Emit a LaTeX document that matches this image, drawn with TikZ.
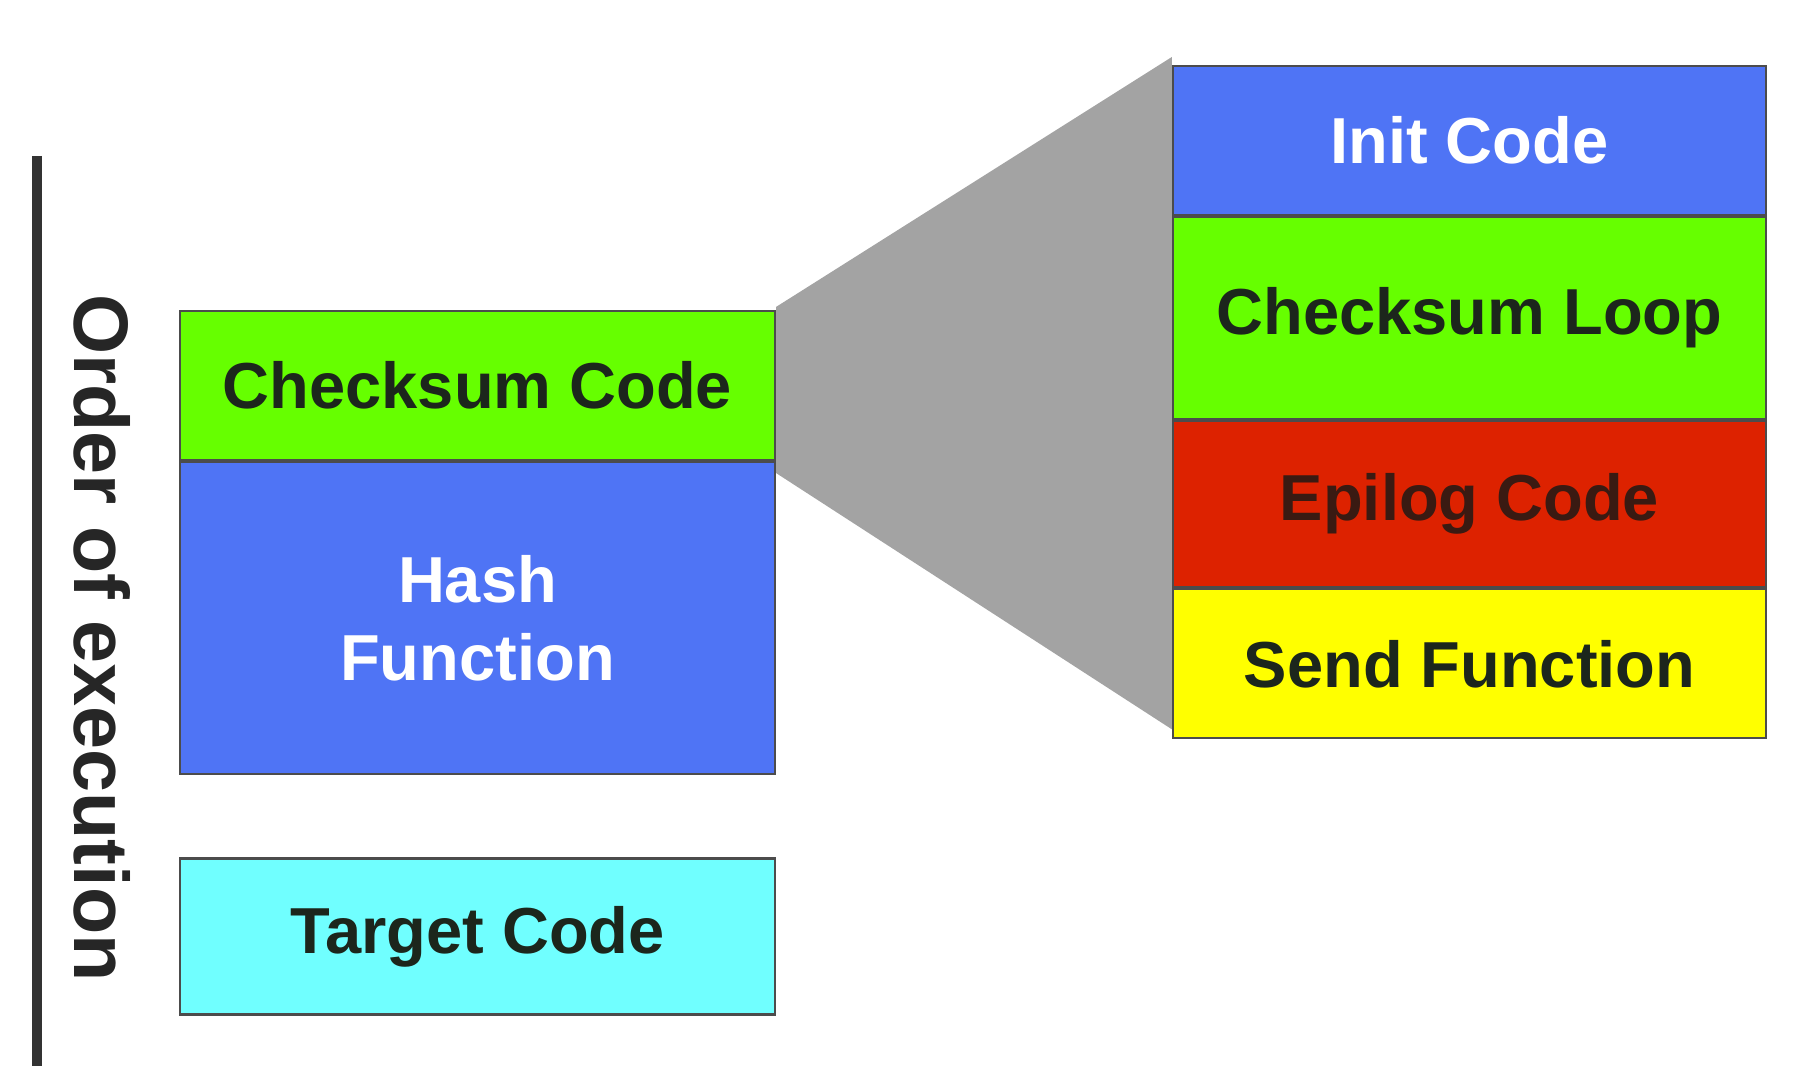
\documentclass[tikz,border=0pt]{standalone}
\usepackage{fontspec}
\setmainfont{Liberation Sans}
\usepackage{tikz}
\usetikzlibrary{positioning,backgrounds}

\definecolor{codeblue}{HTML}{4F74F5}
\definecolor{codegreen}{HTML}{66FF00}
\definecolor{codered}{HTML}{DD2200}
\definecolor{codeyellow}{HTML}{FFFF00}
\definecolor{codecyan}{HTML}{70FFFF}
\definecolor{funnelgray}{HTML}{A3A3A3}
\definecolor{darktext}{HTML}{1C261C}

\begin{document}
\begin{tikzpicture}[
		every node/.style={rectangle, draw=black!70, line width=0.6pt, inner sep=0pt,
			text=darktext, align=center,
			font=\fontsize{18.5}{22}\selectfont\bfseries},
		leftbox/.style={minimum width=5.95cm},
		rightbox/.style={minimum width=5.93cm}
	]
  \useasboundingbox (0,0) rectangle (18,-10.66);
  \node (chk) [leftbox, minimum height=1.49cm, fill=codegreen] at (4.775,-3.855) {Checksum Code};
  \node (hash) [leftbox, minimum height=3.12cm, fill=codeblue, text=white, below=0pt of chk] {Hash\\Function};
  \node (target) [leftbox, minimum height=1.56cm, fill=codecyan] at (4.775,-9.365) {Target Code};
  \node (init) [rightbox, minimum height=1.49cm, fill=codeblue, text=white] at (14.695,-1.405) {Init Code};
  \node (loop) [rightbox, minimum height=2.02cm, fill=codegreen, below=0pt of init] {Checksum Loop};
  \node (epilog) [rightbox, minimum height=1.66cm, fill=codered, text={rgb,255:red,58;green,26;blue,18}, below=0pt of loop] {Epilog Code};
  \node (send) [rightbox, minimum height=1.49cm, fill=codeyellow, below=0pt of epilog] {Send Function};
  \begin{scope}[on background layer]
    \fill[funnelgray] ([yshift=0.03cm]chk.north east) -- ([yshift=0.08cm]init.north west)
      -- ([yshift=0.1cm]send.south west) -- ([yshift=-0.12cm]chk.south east) -- cycle;
  \end{scope}
  \coordinate (top) at (0.37,-1.56);
  \coordinate (bottom) at (0.37,-10.66);
  \draw [line width=2.6pt, black!80] (top) -- (bottom);
  \node (order) [draw=none, rotate=-90, text=black!85,
    font=\fontsize{22}{26}\selectfont\bfseries] at (1.02,-6.38) {Order of execution};
\end{tikzpicture}
\end{document}
